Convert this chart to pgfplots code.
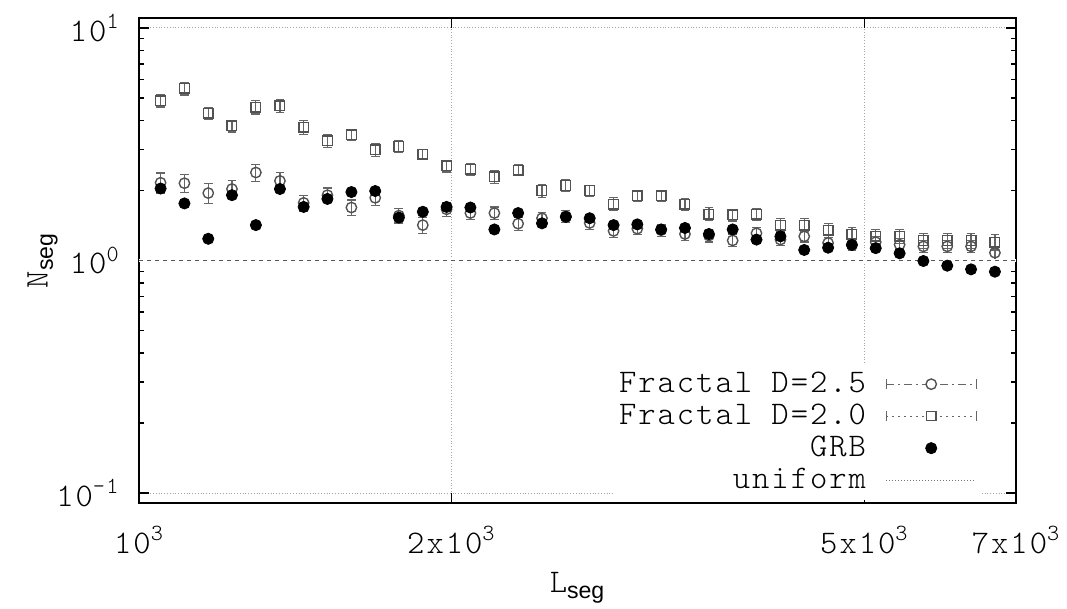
\documentclass[border=0pt]{standalone}
\usepackage{fontspec}
\setmainfont{lmmonolt10-regular.otf}[LetterSpace=6]
\newfontfamily\sansf{Liberation Sans}
\usepackage{pgfplots}
\usepackage{pgfplotstable}
\pgfplotsset{compat=1.18}

% x = L_seg, d25/e25 = fractal D=2.5, d20/e20 = fractal D=2.0, grb = GRB
\pgfplotstableread{
x      d25   e25   d20   e20   grb
1049   2.16  0.22  4.87  0.30  2.04
1106   2.15  0.19  5.50  0.35  1.76
1166   1.95  0.19  4.30  0.25  1.24
1229   2.03  0.18  3.79  0.22  1.91
1296   2.39  0.20  4.57  0.30  1.42
1367   2.20  0.19  4.62  0.28  2.03
1441   1.77  0.14  3.74  0.25  1.70
1519   1.91  0.14  3.27  0.22  1.84
1602   1.69  0.13  3.47  0.20  1.97
1689   1.86  0.13  2.99  0.18  1.99
1780   1.56  0.11  3.09  0.18  1.53
1877   1.42  0.11  2.86  0.15  1.62
1979   1.66  0.11  2.55  0.15  1.70
2086   1.60  0.10  2.47  0.14  1.69
2200   1.60  0.10  2.29  0.14  1.36
2319   1.44  0.09  2.45  0.13  1.60
2445   1.52  0.09  2.00  0.13  1.445
2578   1.55  0.09  2.10  0.12  1.54
2718   1.45  0.09  2.00  0.11  1.52
2866   1.34  0.08  1.75  0.11  1.42
3021   1.37  0.08  1.90  0.10  1.43
3185   1.35  0.08  1.90  0.10  1.36
3358   1.30  0.08  1.75  0.10  1.38
3541   1.28  0.08  1.585 0.10  1.30
3733   1.22  0.07  1.57  0.09  1.36
3936   1.31  0.08  1.585 0.09  1.23
4150   1.23  0.07  1.42  0.09  1.27
4375   1.27  0.07  1.42  0.09  1.11
4613   1.19  0.07  1.35  0.09  1.135
4863   1.17  0.07  1.30  0.09  1.166
5127   1.20  0.07  1.27  0.09  1.13
5406   1.17  0.07  1.27  0.09  1.074
5699   1.15  0.07  1.22  0.09  0.995
6009   1.15  0.07  1.22  0.09  0.95
6335   1.15  0.07  1.22  0.09  0.916
6679   1.08  0.07  1.20  0.09  0.895
}\datatab

\colorlet{markgray}{black!68}
\colorlet{bargray}{black!60}
\newcommand{\fs}{\fontsize{16.5}{19}\selectfont}

\begin{document}
\fs
\begin{tikzpicture}
\begin{axis}[
  scale only axis,
  width=438.5pt, height=242.5pt,
  xmode=log, ymode=log,
  xmin=1000, xmax=7000, ymin=0.0906, ymax=11.04,
  xtick={1000,2000,5000,7000},
  xticklabels={10\textsuperscript{3},2x10\textsuperscript{3},5x10\textsuperscript{3},7x10\textsuperscript{3}},
  minor xtick={},
  ytick={0.1,1,10},
  yticklabels={10\textsuperscript{-1},10\textsuperscript{0},10\textsuperscript{1}},
  minor ytick={0.2,0.3,0.4,0.5,0.6,0.7,0.8,0.9,2,3,4,5,6,7,8,9},
  grid=major,
  grid style={densely dotted, black!35, line width=0.5pt},
  major tick length=5pt, minor tick length=2.5pt,
  tick style={black, line width=0.6pt},
  axis line style={line width=1pt},
  tick label style={font=\fs},
  xticklabel style={yshift=-6pt},
  yticklabel style={xshift=-4pt},
  xlabel={L\textsubscript{\sansf seg}},
  ylabel={N\textsubscript{\sansf seg}},
  xlabel style={at={(axis description cs:0.5,-0.175)}, anchor=center},
  ylabel style={at={(axis description cs:-0.11,0.5)}, anchor=center},
  label style={font=\fs},
  legend plot pos=right,
  legend cell align=right,
  legend style={at={(axis description cs:0.961,0.005)}, anchor=south east,
    draw=none, fill=white, inner sep=2pt,
    font=\fs,
    nodes={text height=11pt, text depth=3pt, inner sep=1pt},
    column sep=8.5pt},
  error bars/y dir=both,
  error bars/y explicit,
  error bars/error bar style={bargray, line width=0.6pt},
  error bars/error mark options={bargray, rotate=90, mark size=2.2pt, line width=0.6pt},
]
\addplot[only marks, mark=o, mark size=2.6pt, markgray, line width=0.7pt,
  legend image code/.code={
    \draw[bargray, line width=0.5pt, dash pattern=on 4pt off 2pt on 1pt off 2pt] (0pt,0pt) -- (45pt,0pt);
    \draw[bargray, line width=0.6pt] (0pt,-2.5pt) -- (0pt,2.5pt) (45pt,-2.5pt) -- (45pt,2.5pt);
    \draw[markgray, fill=white, line width=0.7pt] (22.5pt,0pt) circle (2.6pt);}]
  table[x=x, y=d25, y error=e25] {\datatab};
\addlegendentry{Fractal D=2.5}
\addplot[only marks, mark=square, mark size=2.4pt, markgray, line width=0.7pt,
  legend image code/.code={
    \draw[bargray, line width=0.5pt, dash pattern=on 1pt off 2pt] (0pt,0pt) -- (45pt,0pt);
    \draw[bargray, line width=0.6pt] (0pt,-2.5pt) -- (0pt,2.5pt) (45pt,-2.5pt) -- (45pt,2.5pt);
    \draw[markgray, fill=white, line width=0.7pt] (20.2pt,-2.3pt) rectangle (24.8pt,2.3pt);}]
  table[x=x, y=d20, y error=e20] {\datatab};
\addlegendentry{Fractal D=2.0}
\addplot[only marks, mark=*, mark size=2.8pt, black, error bars/y dir=none,
  legend image code/.code={
    \path[draw=none, fill=none] (0pt,0pt) -- (45pt,0pt);
    \fill[black] (22.5pt,0pt) circle (2.8pt);}]
  table[x=x, y=grb] {\datatab};
\addlegendentry{GRB}
\addplot[black!65, dash pattern=on 2.2pt off 1.8pt, line width=0.6pt,
  preaction={draw, white, solid, line width=1.2pt}, error bars/y dir=none,
  legend image code/.code={
    \draw[black!55, densely dotted, line width=0.5pt] (0pt,0pt) -- (45pt,0pt);}]
  coordinates {(1000,1) (7000,1)};
\addlegendentry{uniform}
\end{axis}
\pgfresetboundingbox
\path[use as bounding box] ([xshift=-69.5pt,yshift=-53pt]current axis.south west) rectangle ([xshift=25.5pt,yshift=9pt]current axis.north east);
\end{tikzpicture}
\end{document}
